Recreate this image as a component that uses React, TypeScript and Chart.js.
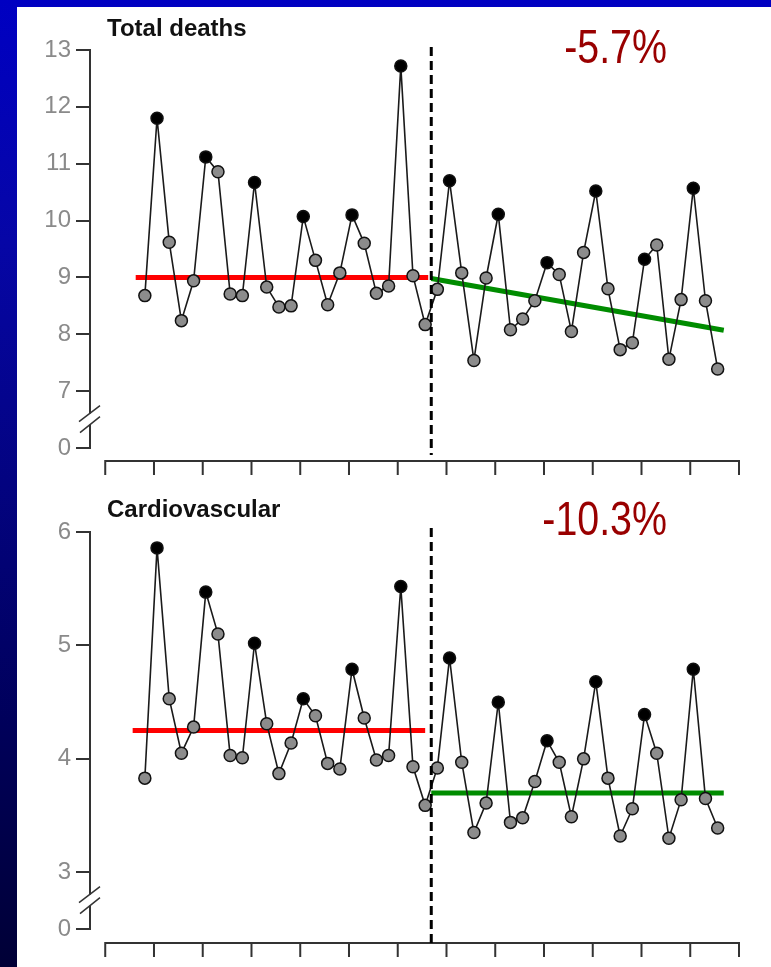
import React, { useEffect, useRef } from "react";
import { Chart, registerables } from "chart.js";

Chart.register(...registerables);

// ---------- data ----------
const quarterIndex = [
  0, 1, 2, 3, 4, 5, 6, 7, 8, 9, 10, 11, 12, 13, 14, 15, 16, 17, 18, 19, 20, 21, 22, 23,
  24, 25, 26, 27, 28, 29, 30, 31, 32, 33, 34, 35, 36, 37, 38, 39, 40, 41, 42, 43, 44, 45, 46, 47,
];

const totalDeaths = [
  8.68, 11.8, 9.62, 8.24, 8.94, 11.12, 10.86, 8.71, 8.68, 10.67, 8.83, 8.48,
  8.5, 10.07, 9.3, 8.52, 9.08, 10.1, 9.6, 8.72, 8.85, 12.72, 9.03, 8.17,
  8.79, 10.7, 9.08, 7.54, 8.99, 10.11, 8.08, 8.27, 8.59, 9.26, 9.05, 8.05,
  9.44, 10.52, 8.8, 7.73, 7.85, 9.32, 9.57, 7.56, 8.61, 10.57, 8.59, 7.39,
];

const cardiovascular = [
  3.83, 5.86, 4.53, 4.05, 4.28, 5.47, 5.1, 4.03, 4.01, 5.02, 4.31, 3.87,
  4.14, 4.53, 4.38, 3.96, 3.91, 4.79, 4.36, 3.99, 4.03, 5.52, 3.93, 3.59,
  3.92, 4.89, 3.97, 3.35, 3.61, 4.5, 3.44, 3.48, 3.8, 4.16, 3.97, 3.49,
  4.0, 4.68, 3.83, 3.32, 3.56, 4.39, 4.05, 3.3, 3.64, 4.79, 3.65, 3.39,
];

// year boundaries on the quarter axis (x tick marks)
const yearBoundaries = [
  -3.25, 0.75, 4.75, 8.75, 12.75, 16.75, 20.75, 24.75, 28.75, 32.75, 36.75, 40.75, 44.75, 48.75,
];
const interventionAt = 23.5;

// y ticks (lowest tick is shown as "0" below the axis break)
const totalTicks = [6, 7, 8, 9, 10, 11, 12, 13];
const cvTicks = [2.5, 3, 4, 5, 6];

// trend / mean lines
const totalBeforeX = [-0.75, 23.25];
const totalBeforeY = [9.0, 9.0];
const totalAfterX = [23.5, 47.5];
const totalAfterY = [8.98, 8.07];
const cvBeforeX = [-1, 23];
const cvBeforeY = [4.25, 4.25];
const cvAfterX = [23.5, 47.5];
const cvAfterY = [3.7, 3.7];

const titles = ["Total deaths", "Cardiovascular"];
const changes = ["-5.7%", "-10.3%"];

// ---------- plugin ----------
const decorPlugin = {
  id: "decor",
  afterDraw(chart: any, _args: any, opts: any) {
    const { ctx, chartArea, scales } = chart;
    const x = scales.x;
    const y = scales.y;
    ctx.save();

    // x axis (offset below the plot)
    const axisY = chartArea.bottom + opts.axisGap;
    const xa = x.getPixelForValue(yearBoundaries[0]);
    const xb = x.getPixelForValue(yearBoundaries[yearBoundaries.length - 1]);
    ctx.strokeStyle = "#333";
    ctx.lineWidth = 2;
    ctx.beginPath();
    ctx.moveTo(xa - 1, axisY);
    ctx.lineTo(xb + 1, axisY);
    for (const b of yearBoundaries) {
      const px = x.getPixelForValue(b);
      ctx.moveTo(px, axisY);
      ctx.lineTo(px, axisY + 14);
    }
    ctx.stroke();

    // y axis break
    const cy = y.getPixelForValue(opts.breakValue);
    const ax = chartArea.left;
    ctx.fillStyle = "#fff";
    ctx.fillRect(ax - 3, cy - 6, 6, 11);
    ctx.lineWidth = 1.5;
    ctx.strokeStyle = "#333";
    ctx.beginPath();
    ctx.moveTo(ax - 11, cy - 6 + 8);
    ctx.lineTo(ax + 10, cy - 6 - 8);
    ctx.moveTo(ax - 10, cy + 5 + 8);
    ctx.lineTo(ax + 10, cy + 5 - 8);
    ctx.stroke();

    // intervention dashed line
    const xd = x.getPixelForValue(interventionAt);
    ctx.strokeStyle = "#000";
    ctx.lineWidth = 3;
    ctx.setLineDash([9, 5]);
    ctx.beginPath();
    ctx.moveTo(xd, chartArea.top - opts.dashAbove);
    ctx.lineTo(xd, chartArea.bottom + opts.dashBelow);
    ctx.stroke();
    ctx.setLineDash([]);

    // panel title
    ctx.fillStyle = "#111";
    ctx.textAlign = "left";
    ctx.textBaseline = "alphabetic";
    ctx.font = 'bold 24px "Liberation Sans", Arial, sans-serif';
    ctx.fillText(opts.title, 107, opts.titleBaseline);

    // percent change label
    const narrow = '48px "Liberation Sans Narrow", "Liberation Sans"';
    const normal = '48px "Liberation Sans"';
    ctx.font = narrow;
    const w1 = ctx.measureText(opts.change).width;
    ctx.font = normal;
    const w2 = ctx.measureText(opts.change).width;
    ctx.fillStyle = "#990000";
    ctx.textAlign = "right";
    if (Math.abs(w1 - w2) < 0.5) {
      ctx.translate(667, opts.changeBaseline);
      ctx.scale(0.82, 1);
      ctx.fillText(opts.change, 0, 0);
    } else {
      ctx.font = narrow;
      ctx.fillText(opts.change, 667, opts.changeBaseline);
    }
    ctx.restore();
  },
};

function buildConfig(
  values: number[],
  beforeX: number[],
  beforeY: number[],
  afterX: number[],
  afterY: number[],
  yMin: number,
  yMax: number,
  ticks: number[],
  padding: any,
  decor: any
): any {
  const pts = quarterIndex.map((q, i) => ({ x: q, y: values[i] }));
  const fills = quarterIndex.map((q) => (q % 4 === 1 ? "#000000" : "#8c8c8c"));
  return {
    type: "line",
    data: {
      datasets: [
        {
          data: pts,
          borderColor: "#1a1a1a",
          borderWidth: 1.6,
          tension: 0,
          pointRadius: 6,
          pointBorderWidth: 1.5,
          pointBorderColor: "#111",
          pointBackgroundColor: fills,
        },
        {
          data: beforeX.map((v, i) => ({ x: v, y: beforeY[i] })),
          borderColor: "#ff0000",
          borderWidth: 5,
          pointRadius: 0,
          tension: 0,
        },
        {
          data: afterX.map((v, i) => ({ x: v, y: afterY[i] })),
          borderColor: "#008c00",
          borderWidth: 5,
          pointRadius: 0,
          tension: 0,
        },
      ],
    },
    options: {
      animation: false,
      responsive: false,
      maintainAspectRatio: false,
      events: [],
      layout: { padding },
      plugins: {
        legend: { display: false },
        tooltip: { enabled: false },
        decor,
      },
      scales: {
        x: { type: "linear", min: -4.5, max: 48.75, display: false },
        y: {
          type: "linear",
          min: yMin,
          max: yMax,
          afterBuildTicks: (s: any) => {
            s.ticks = ticks.map((v) => ({ value: v }));
          },
          afterFit: (s: any) => {
            s.width = 90;
          },
          ticks: {
            padding: 5,
            color: "#8a8a8a",
            font: { family: '"Liberation Sans", Arial, sans-serif', size: 24 },
            callback: (v: number) => (v === yMin ? "0" : String(v)),
          },
          grid: {
            display: true,
            drawOnChartArea: false,
            drawTicks: true,
            tickLength: 14,
            color: "#333",
            lineWidth: 2,
          },
          border: { display: true, color: "#333", width: 2 },
        },
      },
    },
    plugins: [decorPlugin],
  };
}

export default function App() {
  const topRef = useRef<HTMLCanvasElement>(null);
  const botRef = useRef<HTMLCanvasElement>(null);

  useEffect(() => {
    const c1 = new Chart(
      topRef.current as HTMLCanvasElement,
      buildConfig(
        totalDeaths,
        totalBeforeX,
        totalBeforeY,
        totalAfterX,
        totalAfterY,
        6,
        13,
        totalTicks,
        { left: 0, right: 32, top: 50, bottom: 32 },
        {
          breakValue: 6.5,
          axisGap: 13,
          dashAbove: 3,
          dashBelow: 7,
          title: titles[0],
          titleBaseline: 36,
          change: changes[0],
          changeBaseline: 63,
        }
      )
    );
    const c2 = new Chart(
      botRef.current as HTMLCanvasElement,
      buildConfig(
        cardiovascular,
        cvBeforeX,
        cvBeforeY,
        cvAfterX,
        cvAfterY,
        2.5,
        6,
        cvTicks,
        { left: 0, right: 32, top: 52, bottom: 38 },
        {
          breakValue: 2.75,
          axisGap: 14,
          dashAbove: 4,
          dashBelow: 14,
          title: titles[1],
          titleBaseline: 37,
          change: changes[1],
          changeBaseline: 55,
        }
      )
    );
    return () => {
      c1.destroy();
      c2.destroy();
    };
  }, []);

  return (
    <div
      style={{
        position: "fixed",
        left: 0,
        top: 0,
        width: 771,
        height: 967,
        overflow: "hidden",
        background: "linear-gradient(to bottom, #0000c2 0%, #0606a6 25%, #00005a 75%, #000036 100%)",
      }}
    >
      <div style={{ position: "absolute", left: 17, top: 7, width: 754, height: 960, background: "#ffffff" }} />
      <canvas ref={topRef} width={771} height={480} style={{ position: "absolute", left: 0, top: 0 }} />
      <canvas ref={botRef} width={771} height={487} style={{ position: "absolute", left: 0, top: 480 }} />
    </div>
  );
}
